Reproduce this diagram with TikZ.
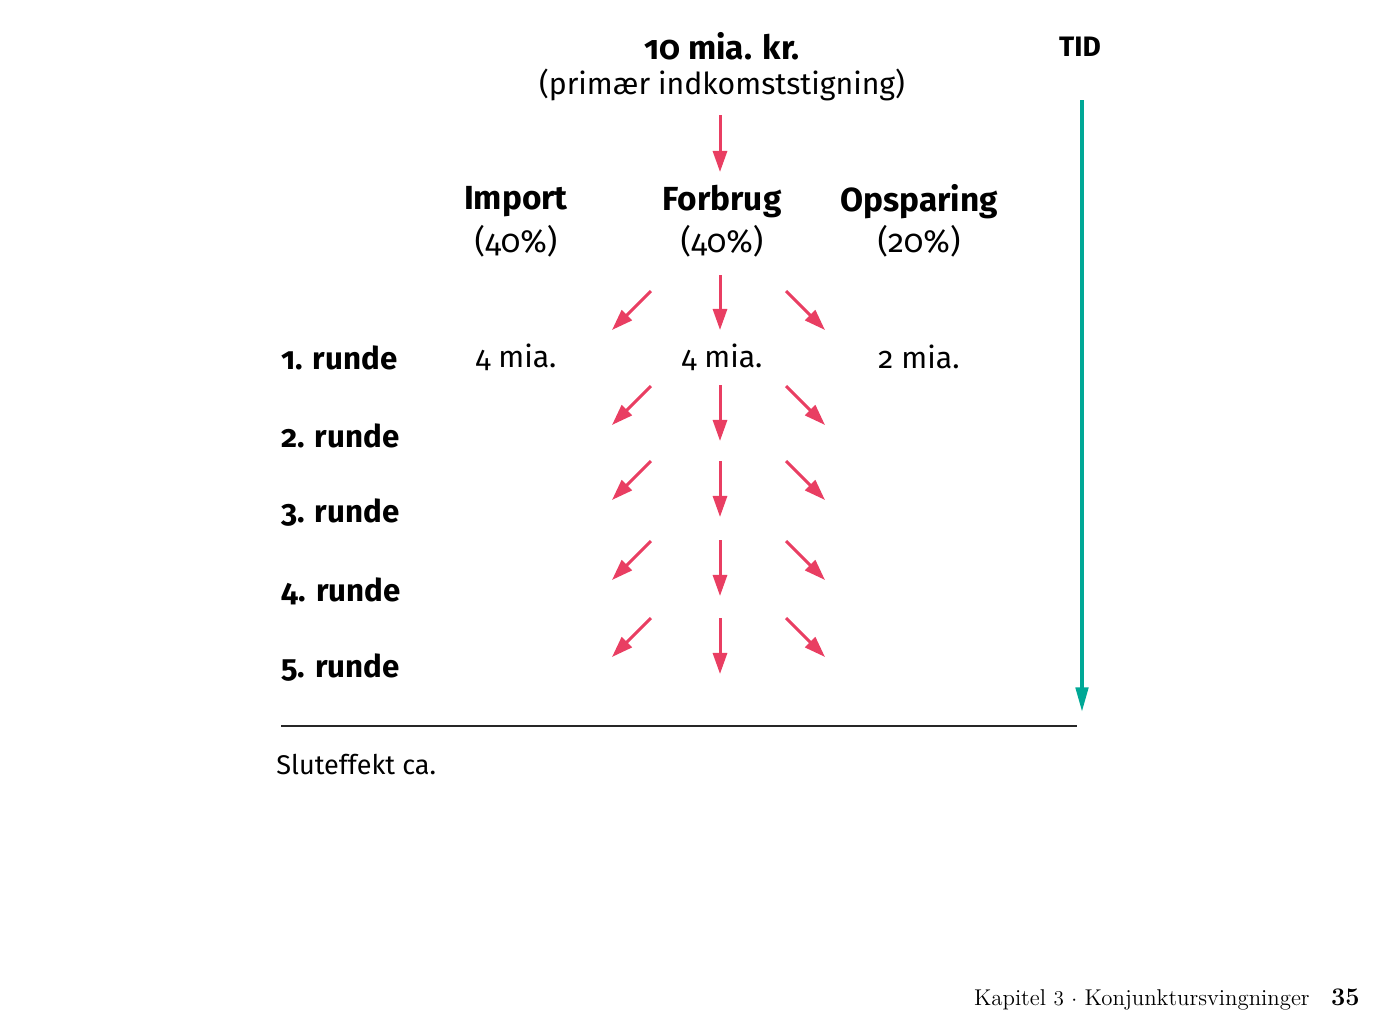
\documentclass[tikz,border=0pt]{standalone}
\usepackage{fontspec}
\newfontfamily\fira[Numbers=OldStyle]{Fira Sans}
\usetikzlibrary{arrows.meta}
\definecolor{multpink}{RGB}{233,62,98}
\definecolor{tidteal}{RGB}{0,168,150}
\newcommand{\pagenum}{{\boldmath$\oldstylenums{35}$}}
\tikzset{
  flow/.style={draw=multpink,line width=1.7pt,-{Triangle[length=12pt,width=8pt]}},
  head/.style={font=\fira\bfseries\fontsize{19}{22}\selectfont,anchor=center},
  share/.style={font=\fira\fontsize{18.3}{22}\selectfont,anchor=center},
  amount/.style={font=\fira\fontsize{17.2}{22}\selectfont,anchor=center},
  round/.style={font=\fira\bfseries\fontsize{17.8}{22}\selectfont,anchor=west,inner sep=0pt},
}
\begin{document}
\begin{tikzpicture}[x=0.02cm,y=-0.02cm]
\useasboundingbox (0,0) rectangle (1400,1015);
% Top: primary income increase
\node[head] (total) at (722,46) {10 mia. kr.};
\node[amount] (primary) at (722,85) {(primær indkomststigning)};
\draw[flow] (720,115) -- (720,172);

% Three channels
\node[head] (import) at (516,202) {Import};
\node[share] (importpct) at (516,241) {(40\%)};
\node[head] (forbrug) at (722,202) {Forbrug};
\node[share] (forbrugpct) at (722,241) {(40\%)};
\node[head] (opsparing) at (919,202) {Opsparing};
\node[share] (opsparingpct) at (919,241) {(20\%)};

% Rounds
\node[round] (r1) at (281,358) {1. runde};
\node[round] (r2) at (281,436) {2. runde};
\node[round] (r3) at (281,513) {3. runde};
\node[round] (r4) at (281,591) {4. runde};
\node[round] (r5) at (281,668) {5. runde};

% First round amounts
\node[amount] (v1) at (516,357) {4 mia.};
\node[amount] (v2) at (722,357) {4 mia.};
\node[amount] (v3) at (919,357) {2 mia.};

% Split arrows per round
\draw[flow] (651,291) -- (612,330);
\draw[flow] (720,275) -- (720,330);
\draw[flow] (786,291) -- (825,330);

\draw[flow] (651,386) -- (612,425);
\draw[flow] (720,385) -- (720,441);
\draw[flow] (786,386) -- (825,425);

\draw[flow] (651,461) -- (612,500);
\draw[flow] (720,461) -- (720,517);
\draw[flow] (786,461) -- (825,500);

\draw[flow] (651,541) -- (612,580);
\draw[flow] (720,540) -- (720,596);
\draw[flow] (786,541) -- (825,580);

\draw[flow] (651,618) -- (612,657);
\draw[flow] (720,618) -- (720,674);
\draw[flow] (786,618) -- (825,657);

% Total line
\draw[line width=1.2pt,black!85] (281,726) -- (1077,726);
\node[font=\fira\fontsize{15.4}{18}\selectfont,anchor=west,inner sep=0pt] (slut) at (276,765) {Sluteffekt ca.};

% Time axis
\node[font=\fira\bfseries\fontsize{16}{18}\selectfont] (tid) at (1080,47) {TID};
\draw[draw=tidteal,line width=2.2pt,-{Triangle[length=14pt,width=7pt]}] (1082,100) -- (1082,712);

% Footer
\node[anchor=base east,font=\fontsize{13}{16}\selectfont,inner sep=0pt] (chapter) at (1310,1005) {Kapitel $\oldstylenums{3}$ $\cdot$ Konjunktursvingninger};
\node[anchor=base east,font=\fontsize{13.5}{16}\selectfont,inner sep=0pt] (page) at (1360,1005) {\pagenum};
\end{tikzpicture}
\end{document}
